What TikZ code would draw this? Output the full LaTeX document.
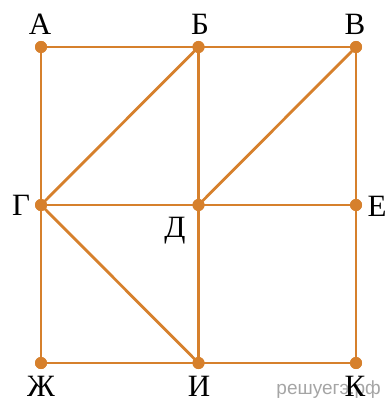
\documentclass[tikz,border=0pt]{standalone}
\usepackage{fontspec}
\setmainfont{Liberation Serif}
\newfontfamily\wmfont{Liberation Sans}
\definecolor{edgeor}{RGB}{214,128,44}
\definecolor{wmgray}{RGB}{165,165,165}
\begin{document}
\begin{tikzpicture}[x=1pt,y=-1pt,
  dot/.style={circle,fill=edgeor,inner sep=0pt,minimum size=12pt},
  edge/.style={draw=edgeor,line width=2.8pt},
  lbl/.style={font=\fontsize{31}{31}\selectfont,inner sep=0pt,text depth=0pt,anchor=base}]
\useasboundingbox (0,0) rectangle (387,401);
% vertices
\node[dot] (A) at (41,47) {};
\node[dot] (B) at (198.5,47) {};
\node[dot] (V) at (356,47) {};
\node[dot] (G) at (41,205) {};
\node[dot] (D) at (198.5,205) {};
\node[dot] (E) at (356,205) {};
\node[dot] (Zh) at (41,363) {};
\node[dot] (I) at (198.5,363) {};
\node[dot] (K) at (356,363) {};
% edges
\path[edge] (A.center) -- (B.center) -- (V.center) -- (E.center) -- (K.center) -- (I.center) -- (Zh.center) -- (G.center) -- cycle;
\path[edge] (B.center) -- (D.center) -- (I.center);
\path[edge] (G.center) -- (D.center) -- (E.center);
\path[edge] (G.center) -- (B.center);
\path[edge] (D.center) -- (V.center);
\path[edge] (G.center) -- (I.center);
% dots on top of edges
\foreach \n in {A,B,V,G,D,E,Zh,I,K} \fill[edgeor] (\n.center) circle (6pt);
% labels
\node[lbl] (lA) at (40,35) {А};
\node[lbl] (lB) at (200,35) {Б};
\node[lbl] (lV) at (355,35) {В};
\node[lbl,anchor=center] (lG) at (21,205) {Г};
\node[lbl] (lD) at (175,237) {Д};
\node[lbl,anchor=center] (lE) at (377,206) {Е};
\node[lbl] (lZh) at (41,396) {Ж};
\node[lbl] (lI) at (199,396) {И};
\node[font=\wmfont\fontsize{19}{19}\selectfont,text=wmgray,inner sep=0pt,anchor=base east] (wm) at (381,394) {решуегэ.рф};
\node[lbl] (lK) at (355,396) {К};
\end{tikzpicture}
\end{document}
